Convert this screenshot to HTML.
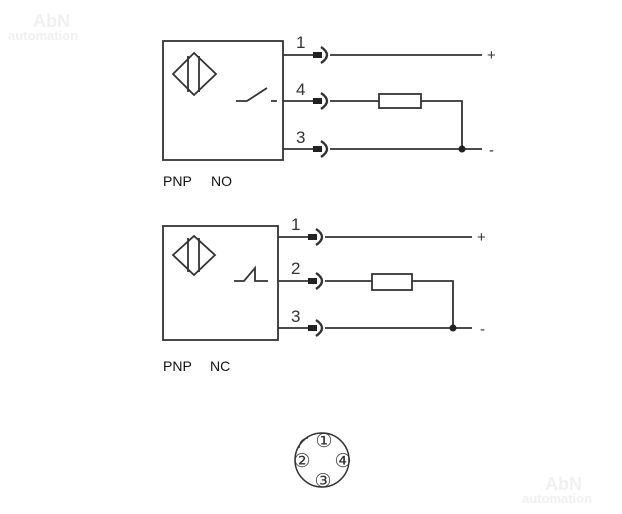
<!DOCTYPE html>
<html><head><style>
html,body{margin:0;padding:0;background:#fff;}
svg{display:block;}
text{font-family:"Liberation Sans",sans-serif;}
</style></head><body>
<svg width="622" height="514" viewBox="0 0 622 514" xmlns="http://www.w3.org/2000/svg">
<g fill="#f0f0f0" font-weight="bold">
<text x="33" y="27" font-size="18">AbN</text>
<text x="8" y="40" font-size="13">automation</text>
<text x="545" y="490" font-size="18">AbN</text>
<text x="522" y="503" font-size="13">automation</text>
</g>
<g stroke="#333" stroke-width="1.8" fill="none">
<rect x="163" y="41" width="120" height="119"/>
<path d="M173 74 L194 53 L216 74 L194 95 Z"/>
<path d="M188 56 V92 M199 56 V92"/>
<path d="M236 101 H247 L267 88 M271 101 H277"/>
<path d="M283 55 H314 M283 101 H314 M283 149 H314"/>
<g stroke-width="2.4">
<path d="M321 47 Q333 55 321 63 M321 93 Q333 101 321 109 M321 141 Q333 149 321 157"/>
<path d="M316 229 Q328 237 316 245 M316 273 Q328 281 316 289 M316 320 Q328 328 316 336"/>
</g>
<path d="M330 55 H482 M330 101 H379 M421 101 H462 V149 M330 149 H482"/>
<rect x="379" y="94" width="42" height="14"/>
<rect x="163" y="226" width="115" height="114"/>
<path d="M173 255 L194 236 L215 255 L194 275 Z"/>
<path d="M188 238 V272 M199 238 V272"/>
<path d="M234 281 H244 L255 268 V281 H268"/>
<path d="M278 237 H309 M278 281 H309 M278 328 H309"/>
<path d="M325 237 H472 M325 281 H372 M412 281 H453 V328 M325 328 H472"/>
<rect x="372" y="274" width="40" height="16"/>
<circle cx="322" cy="460" r="27" stroke-width="1.5"/>
<path d="M299 448 Q300 439 308 438" stroke-width="1.2"/>
</g>
<g fill="#222">
<rect x="313" y="52" width="9" height="6"/><rect x="313" y="98" width="9" height="6"/><rect x="313" y="146" width="9" height="6"/>
<rect x="308" y="234" width="9" height="6"/><rect x="308" y="278" width="9" height="6"/><rect x="308" y="325" width="9" height="6"/>
<circle cx="462" cy="149" r="3.5"/><circle cx="453" cy="328" r="3.5"/>
</g>
<g fill="#333" font-size="17">
<text x="296" y="48">1</text><text x="296" y="95">4</text><text x="296" y="143">3</text>
<text x="291" y="230">1</text><text x="291" y="274">2</text><text x="291" y="322">3</text>
<text x="487" y="60" font-size="15">+</text><text x="489" y="155" font-size="15">-</text>
<text x="477" y="242" font-size="15">+</text><text x="480" y="334" font-size="15">-</text>
</g>
<g fill="#111" font-size="14">
<text x="163" y="186">PNP</text><text x="211" y="186">NO</text>
<text x="163" y="371">PNP</text><text x="210" y="371">NC</text>
</g>
<g fill="#333" font-size="19" text-anchor="middle" style="font-family:'DejaVu Sans',sans-serif">
<text x="324" y="447">①</text>
<text x="302" y="467">②</text>
<text x="343" y="467">④</text>
<text x="323" y="487">③</text>
</g>
</svg>
</body></html>
